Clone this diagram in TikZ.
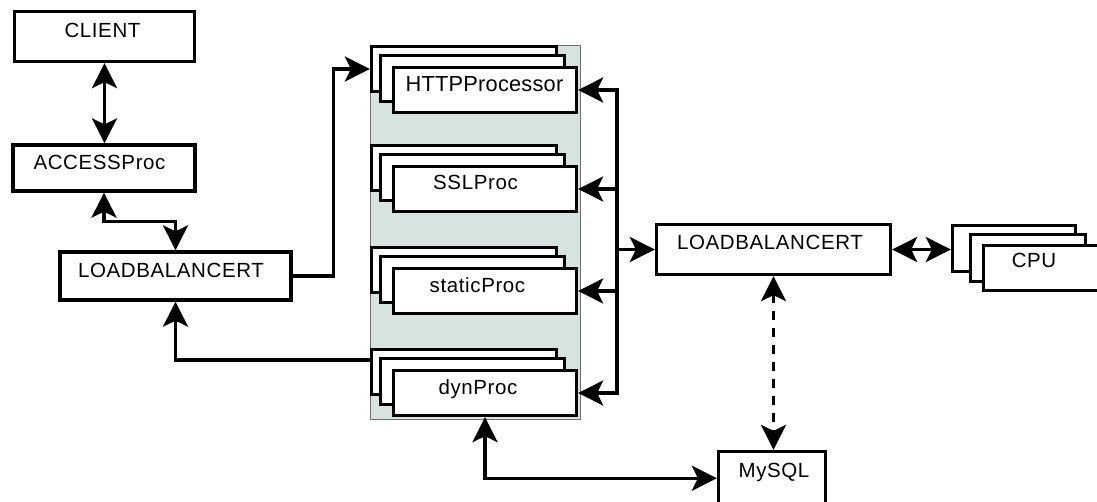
\documentclass[tikz,border=0pt]{standalone}
\usepackage{fontspec}
\setmainfont{Liberation Sans}[LetterSpace=3]
\usetikzlibrary{arrows.meta,fit,calc}
\definecolor{panelfill}{RGB}{214,227,225}
\definecolor{panelline}{RGB}{110,110,110}
\tikzset{
  box/.style={draw=black, line width=3.3pt, fill=white, rectangle, inner sep=0pt},
  panel/.style={draw=panelline, line width=1pt, fill=panelfill, rectangle, inner sep=0pt},
  lbl/.style={inner sep=0pt, text height=14.7pt, text depth=0pt, font=\fontsize{20.5pt}{24pt}\selectfont},
  biglbl/.style={inner sep=0pt, text height=15.6pt, text depth=0pt, font=\fontsize{21.8pt}{26pt}\selectfont\addfontfeatures{LetterSpace=1}},
  conn/.style={line width=3.3pt, line join=miter},
  bigtip/.tip={Stealth[length=25pt,width=25pt,inset=6pt]},
  dashconn/.style={conn, dash pattern=on 9pt off 8pt}
}
\begin{document}
\begin{tikzpicture}[x=1pt,y=-1pt]
\useasboundingbox (0,0) rectangle (1097,501);
\clip (0,0) rectangle (1097,501);

% left column
\node[box, fit={(14.5,11.5) (194.5,61.5)}] (client) {};
\node[box, fit={(13,145) (195,191)}] (access) {};
\node[box, fit={(60,252) (291,300)}] (lbl) {};

% processor panel
\node[panel, fit={(370,45) (580,419)}] (pnl) {};

% HTTP stack
\node[box, fit={(371.5,46.5) (556.5,91.5)}] (httpB) {};
\node[box, fit={(380.5,55.5) (564.5,101.5)}] (httpM) {};
\node[box, fit={(393.5,67.5) (576.5,112.5)}] (httpF) {};
% SSL stack
\node[box, fit={(371.5,145.5) (556.5,190.5)}] (sslB) {};
\node[box, fit={(380.5,154.5) (564.5,200.5)}] (sslM) {};
\node[box, fit={(393.5,166.5) (576.5,211.5)}] (sslF) {};
% static stack
\node[box, fit={(371.5,247.5) (556.5,292.5)}] (statB) {};
\node[box, fit={(380.5,256.5) (564.5,302.5)}] (statM) {};
\node[box, fit={(393.5,268.5) (576.5,313.5)}] (statF) {};
% dyn stack
\node[box, fit={(371.5,349.5) (556.5,394.5)}] (dynB) {};
\node[box, fit={(380.5,358.5) (564.5,404.5)}] (dynM) {};
\node[box, fit={(393.5,370.5) (576.5,415.5)}] (dynF) {};

% right side
\node[box, fit={(656.5,224.5) (890.5,274.5)}] (rlb) {};
\node[box, fit={(952.5,225.5) (1075.5,271.5)}] (cpuB) {};
\node[box, fit={(970.5,234.5) (1085.5,281.5)}] (cpuM) {};
\node[box, fit={(983.5,245.5) (1125,290.5)}] (cpuF) {};
\node[box, fit={(718.5,451.5) (825.5,505)}] (mysql) {};

% labels
\node[lbl] (tclient) at (102.5,30) {CLIENT};
\node[lbl] (taccess) at (99.5,162.5) {ACCESSProc};
\node[lbl] (tlbl) at (171,270) {LOADBALANCERT};
\node[biglbl] (thttp) at (484.5,84) {HTTPProcessor};
\node[lbl] (tssl) at (475.5,182) {SSLProc};
\node[lbl] (tstatic) at (477.5,285) {staticProc};
\node[lbl] (tdyn) at (478,387) {dynProc};
\node[lbl] (trlb) at (770,242.5) {LOADBALANCERT};
\node[lbl] (tcpu) at (1034,260.3) {CPU};
\node[lbl] (tmysql) at (774,470) {MySQL};

% connectors
\draw[conn, bigtip-bigtip] (client.south) -- (client.south |- access.north);
\draw[conn, bigtip-bigtip] (access.south) -- ++(0,29) -| (lbl.north);
\draw[conn, -bigtip] (lbl.east) -- ++(41,0) |- (httpB.west);
\draw[conn, -bigtip] ([yshift=12pt]dynB.west) -| (lbl.south);

\coordinate (bus) at (617,249.5);
\draw[conn, -bigtip] (bus) -- (rlb.west);
\draw[conn, -bigtip] (bus) |- (httpF.east);
\draw[conn, -bigtip] (bus) |- (sslF.east);
\draw[conn, -bigtip] (bus) |- (statF.east);
\draw[conn, -bigtip] (bus) |- (dynF.east);

\draw[conn, bigtip-bigtip] (rlb.east) -- (rlb.east -| cpuB.west);
\draw[dashconn, bigtip-bigtip] (rlb.south) -- (rlb.south |- mysql.north);
\draw[conn, bigtip-bigtip] (dynF.south) |- (mysql.west);
\end{tikzpicture}
\end{document}
